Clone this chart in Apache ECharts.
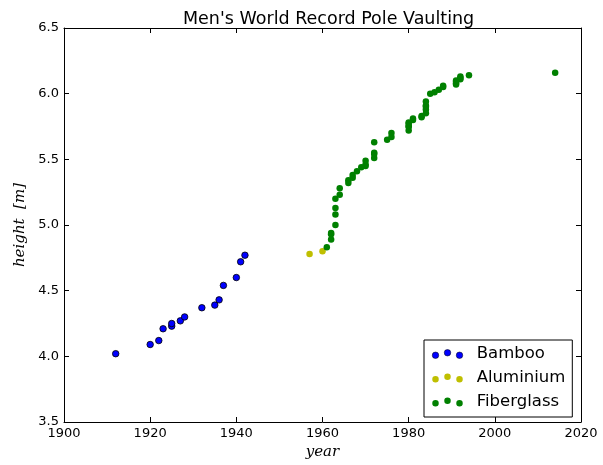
<!DOCTYPE html>
<html>
<head>
<meta charset="utf-8">
<script src="https://cdn.jsdelivr.net/npm/echarts@6/dist/echarts.min.js"></script>
<style>
  html, body { margin: 0; padding: 0; background: #fff; }
  #chart { width: 603px; height: 465px; }
</style>
</head>
<body>
<div id="chart"></div>
<script>
// Men's pole vault world record progression, grouped by pole material
const bambooYears   = [1912, 1920, 1922, 1923, 1925, 1925, 1927, 1928, 1932, 1935, 1936, 1937, 1940, 1941, 1942];
const bambooHeights = [4.02, 4.09, 4.12, 4.21, 4.23, 4.25, 4.27, 4.30, 4.37, 4.39, 4.43, 4.54, 4.60, 4.72, 4.77];

const aluminiumYears   = [1957, 1960];
const aluminiumHeights = [4.78, 4.80];

const fiberglassYears = [
  1961, 1962, 1962, 1962, 1963, 1963, 1963, 1963, 1964, 1964,
  1966, 1966, 1967, 1967, 1968, 1969, 1970, 1970, 1970, 1972,
  1972, 1972, 1972, 1975, 1976, 1976, 1980, 1980, 1980, 1980,
  1980, 1981, 1981, 1983, 1983, 1984, 1984, 1984, 1984, 1984,
  1985, 1986, 1987, 1988, 1988, 1991, 1991, 1991, 1991, 1992,
  1992, 1992, 1994, 2014
];
const fiberglassHeights = [
  4.83, 4.89, 4.93, 4.94, 5.00, 5.08, 5.13, 5.20, 5.23, 5.28,
  5.32, 5.34, 5.36, 5.38, 5.41, 5.44, 5.45, 5.46, 5.49, 5.51,
  5.54, 5.55, 5.63, 5.65, 5.67, 5.70, 5.72, 5.75, 5.75, 5.77,
  5.78, 5.80, 5.81, 5.82, 5.83, 5.85, 5.88, 5.90, 5.91, 5.94,
  6.00, 6.01, 6.03, 6.05, 6.06, 6.07, 6.08, 6.09, 6.10, 6.11,
  6.12, 6.13, 6.14, 6.16
];

const xTicks = { min: 1900, max: 2020, step: 20 };
const yTicks = { min: 3.5, max: 6.5, step: 0.5 };

const seriesNames = ['Bamboo', 'Aluminium', 'Fiberglass'];

function zip(xs, ys) {
  return xs.map((x, i) => [x, ys[i]]);
}

// three-dot legend marker, middle dot slightly raised
const threeDots =
  'path://M0,5.75a3.25,3.25 0 1,0 6.5,0a3.25,3.25 0 1,0 -6.5,0' +
  'M12,3.25a3.25,3.25 0 1,0 6.5,0a3.25,3.25 0 1,0 -6.5,0' +
  'M24,5.75a3.25,3.25 0 1,0 6.5,0a3.25,3.25 0 1,0 -6.5,0';

const font = 'DejaVu Sans';
const mathFont = 'DejaVu Serif';

const axisCommon = {
  axisLine: { show: true, lineStyle: { color: '#000', width: 1 } },
  axisTick: { show: true, inside: true, length: 5, lineStyle: { color: '#000', width: 1 } },
  splitLine: { show: false },
  axisPointer: { show: false }
};

const chart = echarts.init(document.getElementById('chart'), null, { renderer: 'canvas' });

chart.setOption({
  backgroundColor: '#fff',
  animation: false,
  title: {
    text: "Men's World Record Pole Vaulting",
    left: 178,
    top: 5,
    textStyle: { fontFamily: font, fontSize: 17.5, fontWeight: 'normal', color: '#000' }
  },
  grid: { left: 64, right: 22, top: 28, bottom: 40, containLabel: false },
  legend: {
    orient: 'vertical',
    left: 424,
    top: 340,
    padding: [5, 7, 6, 8],
    itemGap: 6,
    itemWidth: 30.5,
    itemHeight: 9,
    icon: threeDots,
    backgroundColor: '#fff',
    borderColor: '#000',
    borderWidth: 1,
    borderRadius: 0,
    textStyle: {
      fontFamily: font,
      fontSize: 16.5,
      color: '#000',
      lineHeight: 18,
      padding: [0, 0, 0, 9]
    },
    data: [
      { name: seriesNames[0], itemStyle: { borderWidth: 0.5, borderColor: '#000' } },
      { name: seriesNames[1] },
      { name: seriesNames[2] }
    ]
  },
  xAxis: [
    Object.assign({}, axisCommon, {
      type: 'value',
      position: 'bottom',
      min: xTicks.min, max: xTicks.max, interval: xTicks.step,
      name: 'year',
      nameLocation: 'middle',
      nameGap: 23,
      nameTextStyle: { fontFamily: mathFont, fontStyle: 'italic', fontSize: 15, color: '#000' },
      axisLabel: {
        show: true, margin: 5, showMinLabel: true, showMaxLabel: true,
        fontFamily: font, fontSize: 13, color: '#000',
        formatter: v => String(v)
      }
    }),
    Object.assign({}, axisCommon, {
      type: 'value',
      position: 'top',
      min: xTicks.min, max: xTicks.max, interval: xTicks.step,
      axisLabel: { show: false }
    })
  ],
  yAxis: [
    Object.assign({}, axisCommon, {
      type: 'value',
      position: 'left',
      min: yTicks.min, max: yTicks.max, interval: yTicks.step,
      name: 'height  [m]',
      nameLocation: 'middle',
      nameGap: 27,
      nameRotate: 90,
      nameTextStyle: { fontFamily: mathFont, fontStyle: 'italic', fontSize: 15, color: '#000' },
      axisLabel: {
        show: true, margin: 5, showMinLabel: true, showMaxLabel: true,
        fontFamily: font, fontSize: 13, color: '#000',
        formatter: v => v.toFixed(1)
      }
    }),
    Object.assign({}, axisCommon, {
      type: 'value',
      position: 'right',
      min: yTicks.min, max: yTicks.max, interval: yTicks.step,
      axisLabel: { show: false }
    })
  ],
  series: [
    {
      name: seriesNames[0],
      type: 'scatter',
      xAxisIndex: 0, yAxisIndex: 0,
      symbol: 'circle',
      symbolSize: 6.5,
      itemStyle: { color: '#0000ff', borderColor: '#000', borderWidth: 0.8, opacity: 1 },
      data: zip(bambooYears, bambooHeights)
    },
    {
      name: seriesNames[1],
      type: 'scatter',
      xAxisIndex: 0, yAxisIndex: 0,
      symbol: 'circle',
      symbolSize: 6.5,
      itemStyle: { color: '#bfbf00', borderWidth: 0, opacity: 1 },
      data: zip(aluminiumYears, aluminiumHeights)
    },
    {
      name: seriesNames[2],
      type: 'scatter',
      xAxisIndex: 0, yAxisIndex: 0,
      symbol: 'circle',
      symbolSize: 6.5,
      itemStyle: { color: '#008000', borderWidth: 0, opacity: 1 },
      data: zip(fiberglassYears, fiberglassHeights)
    }
  ]
});
</script>
</body>
</html>
